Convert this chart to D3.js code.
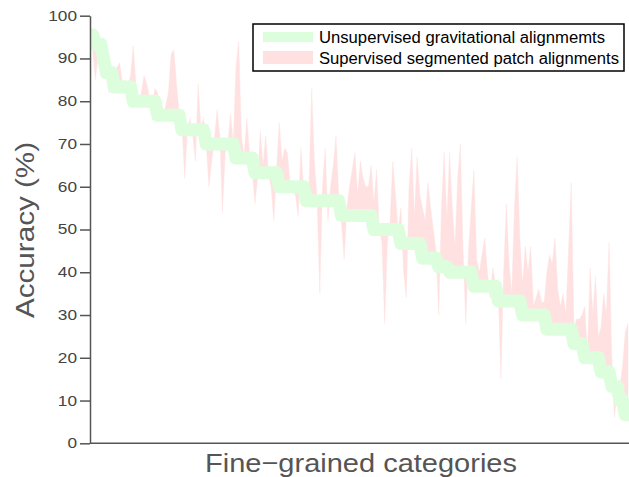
<!DOCTYPE html>
<html>
<head>
<meta charset="utf-8">
<script src="https://cdn.jsdelivr.net/npm/d3@7"></script>
<style>
  body { margin: 0; background: #fff; }
  svg { display: block; }
  .axis path, .axis line { stroke: #555; stroke-width: 1.5; }
  .axis text { fill: #444; font-family: "Liberation Sans", Arial, sans-serif; font-size: 14px; }
  .axis-label { fill: #555; font-family: "Liberation Sans", Arial, sans-serif; }
  .legend text { fill: #000; font-family: "Liberation Sans", Arial, sans-serif; font-size: 16px; }
</style>
</head>
<body>
<div id="chart"></div>
<script>
// accuracy per category (%), categories sorted by the unsupervised result
const unsupervised = [
  95.5, 95.5, 93.3, 93.3, 93.3, 90, 86.7, 86.7, 86.7, 83.3,
  83.3, 83.3, 83.3, 83.3, 83.3, 83.3, 80, 80, 80, 80,
  80, 80, 80, 80, 80, 76.7, 76.7, 76.7, 76.7, 76.7,
  76.7, 76.7, 76.7, 76.7, 73.3, 73.3, 73.3, 73.3, 73.3, 73.3,
  73.3, 73.3, 73.3, 70, 70, 70, 70, 70, 70, 70,
  70, 70, 70, 70, 66.7, 66.7, 66.7, 66.7, 66.7, 66.7,
  66.7, 63.3, 63.3, 63.3, 63.3, 63.3, 63.3, 63.3, 63.3, 63.3,
  60, 60, 60, 60, 60, 60, 60, 60, 60, 60,
  56.7, 56.7, 56.7, 56.7, 56.7, 56.7, 56.7, 56.7, 56.7, 56.7,
  56.7, 56.7, 56.7, 53.3, 53.3, 53.3, 53.3, 53.3, 53.3, 53.3,
  53.3, 53.3, 53.3, 53.3, 53.3, 50, 50, 50, 50, 50,
  50, 50, 50, 50, 50, 46.7, 46.7, 46.7, 46.7, 46.7,
  46.7, 46.7, 46.7, 43.3, 43.3, 43.3, 43.3, 43.3, 43.3, 41.3,
  41.3, 41.3, 41.3, 40, 40, 40, 40, 40, 40, 40,
  40, 40, 36.7, 36.7, 36.7, 36.7, 36.7, 36.7, 36.7, 36.7,
  36.7, 33.3, 33.3, 33.3, 33.3, 33.3, 33.3, 33.3, 33.3, 33.3,
  30, 30, 30, 30, 30, 30, 30, 30, 30, 26.7,
  26.7, 26.7, 26.7, 26.7, 26.7, 26.7, 26.7, 26.7, 26.7, 23.3,
  23.3, 23.3, 23.3, 20, 20, 20, 20, 20, 20, 16.7,
  16.7, 16.7, 16.7, 13.3, 13.3, 13.3, 10, 10, 6.7, 6.7
];

const supervised = [
  93, 92, 85, 91, 88, 90, 87, 82, 86, 84,
  88, 89, 84, 85, 83, 86, 93, 84, 80, 82,
  86, 84, 81, 79, 83, 82, 78, 76, 79, 82,
  91, 92, 84, 77, 75, 62, 73, 76, 72, 66,
  84, 74, 76, 70, 60, 66, 71, 78, 72, 54,
  68, 70, 77, 70, 88, 94, 72, 67, 76, 68,
  64, 56, 62, 73, 65, 72, 63, 60, 52, 64,
  75, 66, 69, 68, 61, 60, 58, 53, 69, 60,
  58, 60, 83, 66, 57, 35, 60, 69, 52, 60,
  65, 72, 58, 52, 43, 55, 60, 64, 68, 58,
  66, 62, 60, 60, 65, 56, 64, 50, 47, 28,
  47, 52, 66, 58, 50, 55, 40, 34, 60, 69,
  53, 67, 58, 55, 52, 61, 55, 50, 45, 30,
  55, 68, 52, 68, 55, 46, 62, 70, 45, 28,
  45, 55, 64, 43, 40, 44, 48, 40, 34, 41,
  37, 36, 15, 40, 56, 42, 35, 55, 67, 48,
  37, 46, 40, 46, 32, 34, 36, 33, 33, 40,
  44, 42, 48, 36, 32, 35, 30, 45, 61, 27,
  29, 29, 30, 32, 21, 41, 30, 39, 25, 27,
  35, 30, 47, 20, 6, 13, 13, 18, 26, 28
];

const yTicks = [0, 10, 20, 30, 40, 50, 60, 70, 80, 90, 100];
const seriesNames = ["Unsupervised gravitational alignmemts", "Supervised segmented patch alignments"];
const seriesColors = ["#ddfedd", "#ffe1e1"];

const W = 629, H = 477;
const margin = {top: 15.7, left: 90, right: 1, bottom: 33.7};

const svg = d3.select("#chart").append("svg")
  .attr("width", W).attr("height", H);

const x = d3.scaleLinear()
  .domain([0, unsupervised.length - 1])
  .range([margin.left, 628]);
const y = d3.scaleLinear()
  .domain([0, 100])
  .range([H - margin.bottom, margin.top]);

svg.append("clipPath").attr("id", "plot-clip")
  .append("rect")
  .attr("x", margin.left).attr("y", 0)
  .attr("width", W - margin.left).attr("height", H - margin.bottom);

const plot = svg.append("g").attr("clip-path", "url(#plot-clip)");

// pink band between the two results
const area = d3.area()
  .x((d, i) => x(i))
  .y0((d, i) => y(unsupervised[i]))
  .y1(d => y(d));

plot.append("path")
  .datum(supervised)
  .attr("d", area)
  .attr("fill", seriesColors[1])
  .attr("stroke", seriesColors[1])
  .attr("stroke-width", 0.4);

// thick green staircase
const line = d3.line()
  .x((d, i) => x(i))
  .y(d => y(d));

plot.append("path")
  .datum(unsupervised)
  .attr("d", line)
  .attr("fill", "none")
  .attr("stroke", seriesColors[0])
  .attr("stroke-width", 13)
  .attr("stroke-linejoin", "round")
  .attr("stroke-linecap", "round");

// axes
const yAxis = svg.append("g")
  .attr("class", "axis")
  .attr("transform", `translate(${margin.left},0)`)
  .call(d3.axisLeft(y).tickValues(yTicks).tickSize(10).tickSizeOuter(0).tickPadding(3));

// the source font is wider than Arial, stretch the digits a bit
yAxis.selectAll(".tick text")
  .attr("textLength", d => String(d).length * 9.6)
  .attr("lengthAdjust", "spacingAndGlyphs");

svg.append("g")
  .attr("class", "axis")
  .attr("transform", `translate(0,${y(0)})`)
  .call(d3.axisBottom(x).tickValues([]).tickSizeOuter(0))
  .select(".domain")
  .attr("d", `M${margin.left},0H${W}`);

// axis titles
svg.append("text")
  .attr("class", "axis-label")
  .attr("transform", `translate(34,230) rotate(-90)`)
  .attr("text-anchor", "middle")
  .attr("font-size", 25)
  .attr("textLength", 176)
  .attr("lengthAdjust", "spacingAndGlyphs")
  .text("Accuracy (%)");

svg.append("text")
  .attr("class", "axis-label")
  .attr("x", 361)
  .attr("y", 472)
  .attr("text-anchor", "middle")
  .attr("font-size", 26)
  .attr("textLength", 312)
  .attr("lengthAdjust", "spacingAndGlyphs")
  .text("Fine\u2212grained categories");

// legend
const legend = svg.append("g").attr("class", "legend");
legend.append("rect")
  .attr("x", 253).attr("y", 24)
  .attr("width", 371).attr("height", 47)
  .attr("fill", "#fff")
  .attr("stroke", "#000")
  .attr("stroke-width", 1.5);

legend.append("rect")
  .attr("x", 263).attr("y", 32)
  .attr("width", 50).attr("height", 10)
  .attr("fill", seriesColors[0]);
legend.append("rect")
  .attr("x", 263).attr("y", 51)
  .attr("width", 50).attr("height", 13)
  .attr("fill", seriesColors[1]);

const legendWidths = [286, 300];
legend.selectAll("text.entry")
  .data(seriesNames)
  .join("text")
  .attr("class", "entry")
  .attr("x", 319)
  .attr("y", (d, i) => 43 + i * 21)
  .attr("textLength", (d, i) => legendWidths[i])
  .attr("lengthAdjust", "spacingAndGlyphs")
  .text(d => d);
</script>
</body>
</html>
